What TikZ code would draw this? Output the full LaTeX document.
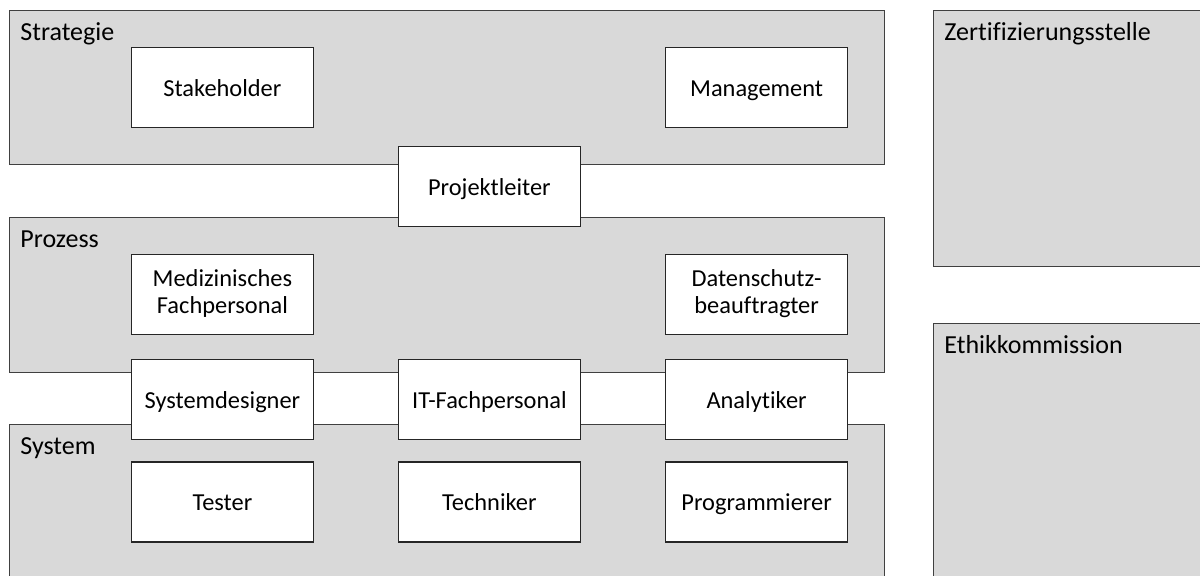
\documentclass[tikz,border=0pt]{standalone}
\usepackage{fontspec}
\setmainfont{Carlito}[Ligatures=NoCommon]
\definecolor{groupfill}{HTML}{D9D9D9}
\definecolor{groupline}{HTML}{404040}
\definecolor{roleline}{HTML}{262626}
\begin{document}
\begin{tikzpicture}[x=0.5pt,y=-0.5pt,
  group/.style={rectangle, draw=groupline, fill=groupfill, line width=0.65pt,
    anchor=north west, inner sep=0pt},
  glabel/.style={anchor=base west, inner sep=0pt, font=\fontsize{13}{15}\selectfont},
  role/.style={rectangle, draw=roleline, fill=white, line width=0.65pt,
    minimum width=91pt, minimum height=40pt, inner sep=0pt, align=center,
    font=\fontsize{12.2}{13.2}\selectfont,
    execute at begin node={\rule{0pt}{11.3pt}},
    execute at end node={\rule[-2.8pt]{0pt}{2.8pt}}}]
\useasboundingbox (0,0) rectangle (1200,576);
\clip (0,0) rectangle (1200,576);

% layers
\node[group, minimum width=437.5pt, minimum height=77pt]   (strategie) at (9,10) {};
\node[group, minimum width=437.5pt, minimum height=77.5pt] (prozess)   at (9,217) {};
\node[group, minimum width=437.5pt, minimum height=90pt]   (system)    at (9,424) {};
% external bodies
\node[group, minimum width=140pt, minimum height=128pt] (zert)  at (933,10) {};
\node[group, minimum width=140pt, minimum height=140pt] (ethik) at (933,323) {};

% layer titles
\node[glabel] (tstrategie) at (20,40.7)  {Strategie};
\node[glabel] (tprozess)   at (20,247.7) {Prozess};
\node[glabel] (tsystem)    at (20,454.7) {System};
\node[glabel] (tzert)      at (944,40.7) {Zertifizierungsstelle};
\node[glabel] (tethik)     at (944,353.7) {Ethikkommission};

% roles
\node[role] (stakeholder) at (222.4,87.7)  {Stakeholder};
\node[role] (management)  at (756.6,87.7)  {Management};
\node[role] (projekt)     at (489.4,186.7) {Projektleiter};
\node[role] (medizin)     at (222.4,294.2) {Medizinisches\\Fachpersonal};
\node[role] (datenschutz) at (756.6,294.2) {Datenschutz-\\beauftragter};
\node[role] (sysdesign)   at (222.4,399.6) {Systemdesigner};
\node[role] (itfach)      at (489.4,399.6) {IT-Fachpersonal};
\node[role] (analytiker)  at (756.6,399.6) {Analytiker};
\node[role] (tester)      at (222.4,501.9) {Tester};
\node[role] (techniker)   at (489.4,501.9) {Techniker};
\node[role] (programm)    at (756.6,501.9) {Programmierer};
\end{tikzpicture}
\end{document}
